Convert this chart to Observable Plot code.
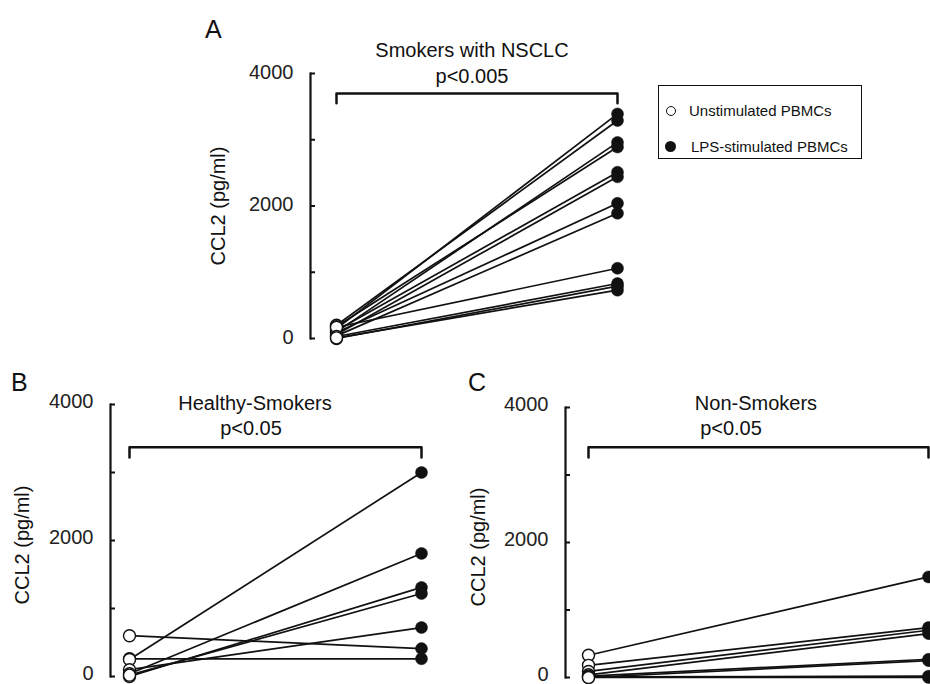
<!DOCTYPE html>
<html>
<head>
<meta charset="utf-8">
<script src="https://cdn.jsdelivr.net/npm/d3@7"></script>
<script src="https://cdn.jsdelivr.net/npm/@observablehq/plot@0.6"></script>
<style>
  html, body { margin: 0; padding: 0; background: #fff; }
  #fig { position: relative; width: 930px; height: 684px; overflow: hidden;
         font-family: "Liberation Sans", Arial, sans-serif; color: #111; }
  .t { position: absolute; white-space: nowrap; font-size: 20px; line-height: 1;
       transform: translate(-50%, -50%); }
  .rot { transform: translate(-50%, -50%) rotate(-90deg); }
  .lab { position: absolute; font-size: 25px; line-height: 1; }
  .panel { position: absolute; }
  #legend { position: absolute; left: 658px; top: 85px; width: 202px; height: 72px;
            border: 1.5px solid #111; font-size: 15px; }
  #legend .row { position: absolute; left: 0; display: flex; align-items: center; white-space: nowrap; }
  #legend .sym { display: inline-block; border-radius: 50%; box-sizing: border-box; }
</style>
</head>
<body>
<div id="fig"></div>
<script>
// ---- data ----
const conditions = ["Unstimulated PBMCs", "LPS-stimulated PBMCs"];
const yTicks = [0, 1000, 2000, 3000, 4000];
const yTickLabels = [0, 2000, 4000];

// A: Smokers with NSCLC
const unstimA = [150, 200, 100, 180, 120, 60, 90, 40, 170, 30, 0, 10];
const lpsA    = [3390, 3290, 2960, 2890, 2510, 2440, 2040, 1890, 1060, 830, 790, 730];
// B: Healthy-Smokers
const unstimB = [600, 260, 250, 100, 40, 0, 20];
const lpsB    = [410, 260, 3000, 720, 1810, 1310, 1220];
// C: Non-Smokers
const unstimC = [330, 180, 90, 40, 20, 0, 10, 0];
const lpsC    = [1490, 740, 700, 650, 270, 250, 20, 0];

const titles = ["Smokers with NSCLC", "Healthy-Smokers", "Non-Smokers"];
const pvalues = ["p<0.005", "p<0.05", "p<0.05"];
const panelLetters = ["A", "B", "C"];
const yLabel = "CCL2 (pg/ml)";
// significance bracket levels (top, end) per panel
const bracketA = [3700, 3550];
const bracketB = [3370, 3220];
const bracketC = [3410, 3260];

const fig = document.getElementById("fig");

function panel(unstim, lps, bracket, cfg) {
  const data = unstim.map((u, i) => ({u, l: lps[i]}));
  const br = [
    {x: conditions[0], y: bracket[1]},
    {x: conditions[0], y: bracket[0]},
    {x: conditions[1], y: bracket[0]},
    {x: conditions[1], y: bracket[1]}
  ];
  const svg = Plot.plot({
    width: cfg.width, height: cfg.height,
    marginLeft: cfg.marginLeft, marginTop: cfg.marginTop,
    marginBottom: cfg.marginBottom, marginRight: 10,
    style: {fontFamily: '"Liberation Sans", Arial, sans-serif', fontSize: "20px",
            color: "#111", background: "transparent", maxWidth: "none", overflow: "visible"},
    x: {type: "point", domain: conditions, range: cfg.xRange, padding: 0, axis: null},
    y: {domain: [0, 4000]},
    marks: [
      Plot.frame({anchor: "left", stroke: "#111", strokeWidth: 2.2}),
      Plot.axisY(yTicks, {tickSize: 5, dx: 5, fill: "none", stroke: "#111", strokeWidth: 2, label: null}),
      Plot.axisY(yTickLabels, {tickSize: 0, tickPadding: 17, tickFormat: "d", fontSize: 20, dy: cfg.labelDy, fill: "#222", label: null}),
      Plot.line(br, {x: "x", y: "y", stroke: "#111", strokeWidth: 2.5}),
      Plot.link(data, {x1: () => conditions[0], x2: () => conditions[1], y1: "u", y2: "l",
                       stroke: "#111", strokeWidth: 1.7}),
      Plot.dot(data, {x: () => conditions[1], y: "l", r: 6, fill: "#111", stroke: "#111", strokeWidth: 0.5}),
      Plot.dot(data, {x: () => conditions[0], y: "u", r: 6, fill: "white", stroke: "#111", strokeWidth: 1.4})
    ]
  });
  svg.classList.add("panel");
  svg.style.left = cfg.left + "px";
  svg.style.top = cfg.top + "px";
  fig.appendChild(svg);
}

panel(unstimA, lpsA, bracketA, {left: 180, top: 0, width: 460, height: 360,
  marginLeft: 130, marginTop: 73, marginBottom: 22, xRange: [156, 437], labelDy: -1});
panel(unstimB, lpsB, bracketB, {left: 0, top: 380, width: 460, height: 320,
  marginLeft: 110, marginTop: 24, marginBottom: 24, xRange: [129, 421], labelDy: -3});
panel(unstimC, lpsC, bracketC, {left: 460, top: 380, width: 560, height: 320,
  marginLeft: 105, marginTop: 27, marginBottom: 23, xRange: [128, 468], labelDy: -3});

function text(str, x, y, cls) {
  const d = document.createElement("div");
  d.className = cls || "t";
  d.textContent = str;
  d.style.left = x + "px";
  d.style.top = y + "px";
  fig.appendChild(d);
  return d;
}
// titles and p-values
text(titles[0], 472, 50); text(pvalues[0], 472, 76);
text(titles[1], 255, 403); text(pvalues[1], 251, 428);
text(titles[2], 756, 403); text(pvalues[2], 731, 428);
// y labels
text(yLabel, 218, 206, "t rot");
text(yLabel, 22, 545, "t rot");
text(yLabel, 478, 547, "t rot");
// panel letters
function letter(str, x, baseline) {
  const d = document.createElement("div");
  d.className = "lab";
  d.textContent = str;
  d.style.left = x + "px";
  d.style.top = (baseline - 21) + "px";
  fig.appendChild(d);
}
letter(panelLetters[0], 205, 38);
letter(panelLetters[1], 11, 391);
letter(panelLetters[2], 468, 391);

// legend
const lg = document.createElement("div");
lg.id = "legend";
lg.innerHTML =
  `<div class="row" style="top:16px;left:7px"><span class="sym" style="width:10px;height:10px;border:1.3px solid #111;background:#fff"></span><span style="margin-left:13px">${conditions[0]}</span></div>` +
  `<div class="row" style="top:52px;left:6px"><span class="sym" style="width:11px;height:11px;background:#111"></span><span style="margin-left:15px">${conditions[1]}</span></div>`;
fig.appendChild(lg);
</script>
</body>
</html>
